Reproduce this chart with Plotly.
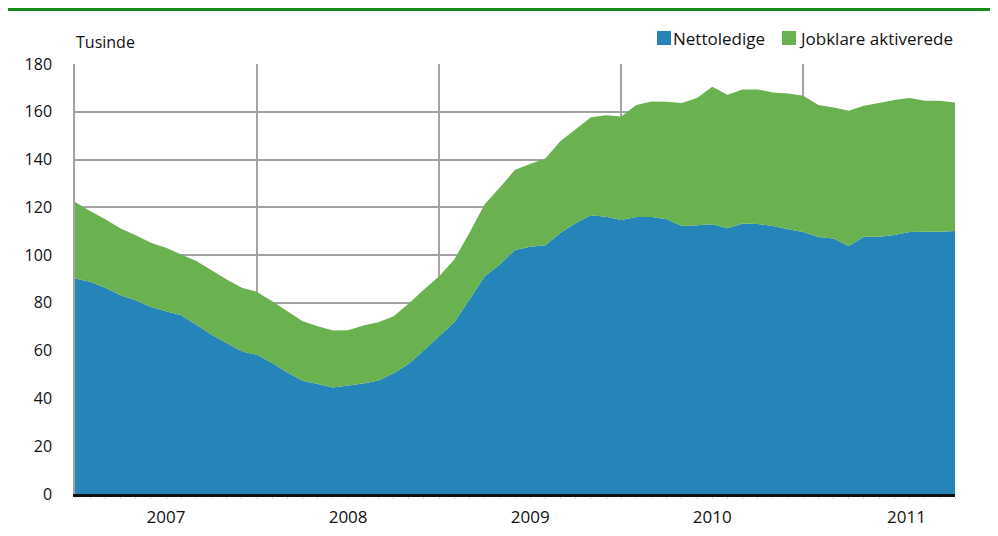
import plotly.graph_objects as go

# Monthly index from Jan 2007 (0) to Nov 2011 (58)
months = list(range(59))

# Nettoledige (thousands)
nettoledige = [90.2, 88.8, 86.3, 83.2, 81.1, 78.3, 76.5, 74.8, 70.9, 66.7,
               63.2, 59.7, 58.3, 54.8, 50.9, 47.4, 46.0, 44.6, 45.4, 46.3,
               47.5, 50.5, 54.5, 60.2, 66.0, 71.9, 81.4, 91.2, 96.1, 102.1,
               103.5, 104.1, 109.4, 113.3, 116.7, 116.1, 114.7, 116.0, 116.0, 115.0,
               112.2, 112.5, 112.9, 111.2, 113.2, 113.0, 112.2, 110.8, 109.7, 107.6,
               107.0, 103.8, 107.7, 107.7, 108.4, 109.7, 109.8, 109.8, 110.1]

# Jobklare aktiverede (thousands)
jobklare = [32.0, 29.7, 28.7, 27.9, 27.2, 26.9, 26.6, 25.5, 26.6, 27.0,
            26.6, 26.6, 26.3, 25.9, 25.6, 24.9, 24.2, 23.8, 23.1, 24.2,
            24.4, 23.9, 25.2, 25.4, 25.2, 26.3, 28.0, 30.1, 32.2, 33.6,
            34.6, 36.3, 38.4, 39.4, 41.0, 42.4, 43.3, 46.8, 48.3, 49.2,
            51.5, 53.3, 57.6, 55.9, 56.1, 56.3, 55.9, 56.8, 57.0, 55.2,
            54.8, 56.6, 54.8, 56.0, 56.5, 56.1, 54.8, 54.8, 53.8]

years = ["2007", "2008", "2009", "2010", "2011"]
year_label_pos = [6, 18, 30, 42, 54.8]
year_bounds = [12, 24, 36, 48]

series_names = ["Nettoledige", "Jobklare aktiverede"]
BLUE = "#2685B8"
GREEN = "#6AB150"
GRID = "#A3A3A3"
FONT = "Open Sans"

# the page has a default 8px body margin: size the figure so page == window
OFF = 8
W, H = 998 - 2 * OFF, 536 - 2 * OFF
L, T = 75 - OFF, 64 - OFF
R = (998 - OFF) - 955
B = (536 - OFF) - 494
PW, PH = W - L - R, H - T - B


def px(x):
    """page pixel x -> paper coordinate"""
    return (x - OFF - L) / PW


def py(y):
    """page pixel y -> paper coordinate"""
    return 1 + (T - (y - OFF)) / PH


fig = go.Figure()
fig.add_trace(go.Scatter(x=months, y=nettoledige, name=series_names[0],
                         stackgroup="one", mode="none", fillcolor=BLUE,
                         showlegend=False))
fig.add_trace(go.Scatter(x=months, y=jobklare, name=series_names[1],
                         stackgroup="one", mode="none", fillcolor=GREEN,
                         showlegend=False))
# overlay axis carrying the year-boundary gridlines
fig.add_trace(go.Scatter(x=[None], y=[None], xaxis="x2", showlegend=False,
                         hoverinfo="skip"))

fig.update_layout(
    width=W, height=H,
    margin=dict(l=L, r=R, t=T, b=B, pad=0, autoexpand=False),
    paper_bgcolor="white", plot_bgcolor="white",
    font=dict(family=FONT, size=16, color="#111111"),
    xaxis=dict(range=[0, 58], tickmode="array", tickvals=year_label_pos,
               ticktext=years, ticks="", showgrid=False, zeroline=False,
               showline=True, linecolor="#111111", linewidth=3,
               tickfont=dict(size=17), ticklabelstandoff=6,
               automargin=False,
               minor=dict(dtick=1, tick0=0, ticks="outside", ticklen=2,
                          tickcolor="#D8D8D8", tickwidth=1, showgrid=False),
               fixedrange=True),
    xaxis2=dict(range=[0, 58], overlaying="x", tickmode="array",
                tickvals=year_bounds, showticklabels=False, ticks="",
                showgrid=True, gridcolor=GRID, gridwidth=1.5, zeroline=False,
                showline=False, automargin=False),
    yaxis=dict(range=[0, 180], dtick=20, tick0=0, showgrid=True,
               gridcolor=GRID, gridwidth=1.5, zeroline=False, ticks="",
               showline=True, linecolor=GRID, linewidth=1.5,
               tickfont=dict(size=16), ticklabelstandoff=18,
               automargin=False, fixedrange=True),
    showlegend=False,
)

shapes = [
    # green rule at the top
    dict(type="line", xref="paper", yref="paper", x0=px(8), x1=px(990),
         y0=py(9.5), y1=py(9.5), line=dict(color="#178A1C", width=3)),
    # legend squares
    dict(type="rect", xref="paper", yref="paper", x0=px(657), x1=px(671),
         y0=py(45), y1=py(31), fillcolor=BLUE, line=dict(width=0)),
    dict(type="rect", xref="paper", yref="paper", x0=px(782), x1=px(796),
         y0=py(45), y1=py(31), fillcolor=GREEN, line=dict(width=0)),
]

annotations = [
    dict(text="Tusinde", xref="paper", yref="paper", x=px(74), y=py(42),
         xanchor="left", yanchor="middle", showarrow=False,
         font=dict(size=16)),
    dict(text=series_names[0], xref="paper", yref="paper", x=px(671),
         y=py(38), xanchor="left", yanchor="middle", showarrow=False,
         font=dict(size=17)),
    dict(text=series_names[1], xref="paper", yref="paper", x=px(797),
         y=py(38), xanchor="left", yanchor="middle", showarrow=False,
         font=dict(size=17)),
]
fig.update_layout(shapes=shapes, annotations=annotations)

fig.write_html("out.html", config={"displayModeBar": False})
